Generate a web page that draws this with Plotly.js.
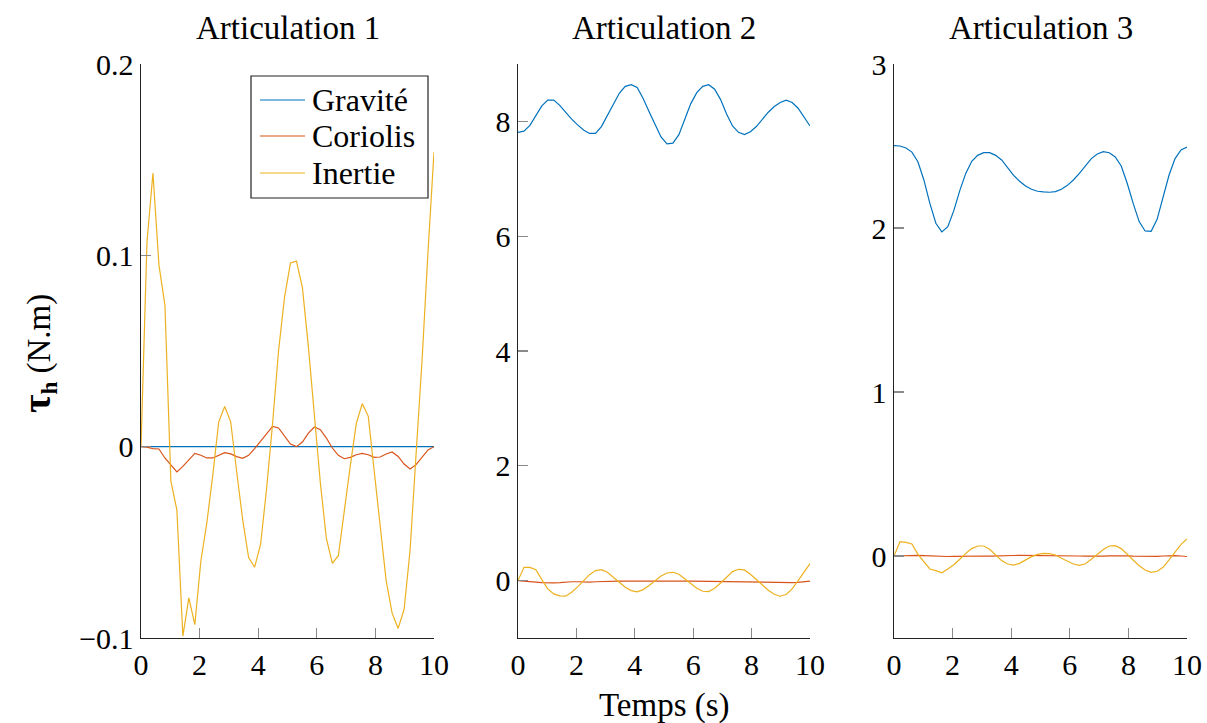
<!DOCTYPE html>
<html>
<head>
<meta charset="utf-8">
<script src="https://cdn.plot.ly/plotly-3.0.1.min.js"></script>
<style>
  html, body { margin: 0; padding: 0; background: #fff; }
  #chart { width: 1207px; height: 723px; }
</style>
</head>
<body>
<div id="chart"></div>
<script>
// Sampling instants (s)
const temps = [0, 0.204, 0.408, 0.612, 0.816, 1.020, 1.224, 1.429, 1.633, 1.837,
  2.041, 2.245, 2.449, 2.653, 2.857, 3.061, 3.265, 3.469, 3.673, 3.878,
  4.082, 4.286, 4.490, 4.694, 4.898, 5.102, 5.306, 5.510, 5.714, 5.918,
  6.122, 6.327, 6.531, 6.735, 6.939, 7.143, 7.347, 7.551, 7.755, 7.959,
  8.163, 8.367, 8.571, 8.776, 8.980, 9.184, 9.388, 9.592, 9.796, 10];

// Joint 1 torques (N.m)
const gravite1 = [0, 0, 0, 0, 0, 0, 0, 0, 0, 0, 0, 0, 0, 0, 0, 0, 0, 0, 0, 0, 0, 0, 0, 0, 0,
  0, 0, 0, 0, 0, 0, 0, 0, 0, 0, 0, 0, 0, 0, 0, 0, 0, 0, 0, 0, 0, 0, 0, 0, 0];
const coriolis1 = [0, -0.0003, -0.001, -0.0012, -0.0059, -0.0094, -0.0132, -0.0103, -0.0068, -0.0035,
  -0.0045, -0.0059, -0.0059, -0.0045, -0.0031, -0.0038, -0.0052, -0.0061, -0.0045, -0.001,
  0.0028, 0.0071, 0.0106, 0.0098, 0.0055, 0.0014, 0, 0.0024, 0.0071, 0.0103,
  0.0089, 0.0045, -0.0007, -0.0045, -0.0063, -0.0056, -0.0042, -0.0035, -0.0042, -0.0056,
  -0.0054, -0.0038, -0.0028, -0.0051, -0.0091, -0.0117, -0.0094, -0.0056, -0.0017, 0];
const inertie1 = [0, 0.107, 0.143, 0.095, 0.074, -0.018, -0.033, -0.099, -0.079, -0.093,
  -0.060, -0.040, -0.015, 0.013, 0.021, 0.013, -0.013, -0.038, -0.058, -0.063,
  -0.051, -0.022, 0.012, 0.050, 0.078, 0.096, 0.097, 0.083, 0.052, 0.016,
  -0.019, -0.048, -0.061, -0.057, -0.033, -0.010, 0.012, 0.0225, 0.016, -0.012,
  -0.043, -0.070, -0.087, -0.095, -0.085, -0.054, -0.004, 0.045, 0.102, 0.154];

// Joint 2 torques (N.m)
const gravite2 = [7.81, 7.83, 7.93, 8.11, 8.27, 8.37, 8.37, 8.28, 8.16, 8.04,
  7.94, 7.85, 7.79, 7.79, 7.91, 8.10, 8.31, 8.49, 8.61, 8.64,
  8.59, 8.40, 8.17, 7.94, 7.73, 7.61, 7.62, 7.77, 8.05, 8.31,
  8.50, 8.61, 8.64, 8.56, 8.38, 8.13, 7.92, 7.81, 7.77, 7.82,
  7.91, 8.04, 8.16, 8.26, 8.33, 8.37, 8.33, 8.23, 8.08, 7.92];
const coriolis2 = [0, -0.005, -0.015, -0.025, -0.035, -0.04, -0.04, -0.035, -0.025, -0.02,
  -0.02, -0.025, -0.025, -0.02, -0.015, -0.01, -0.01, -0.01, -0.008, -0.005,
  -0.005, -0.008, -0.01, -0.008, -0.005, -0.003, -0.003, -0.005, -0.008, -0.01,
  -0.012, -0.015, -0.015, -0.015, -0.012, -0.012, -0.015, -0.02, -0.025, -0.025,
  -0.025, -0.025, -0.03, -0.035, -0.04, -0.04, -0.035, -0.03, -0.02, -0.01];
const inertie2 = [0, 0.232, 0.23, 0.19, 0.017, -0.145, -0.232, -0.267, -0.272, -0.203,
  -0.110, 0, 0.104, 0.174, 0.191, 0.145, 0.064, -0.029, -0.116, -0.174,
  -0.197, -0.157, -0.087, 0, 0.081, 0.133, 0.145, 0.110, 0.035, -0.052,
  -0.133, -0.186, -0.191, -0.133, -0.041, 0.064, 0.157, 0.197, 0.186, 0.110,
  0.017, -0.081, -0.168, -0.238, -0.272, -0.243, -0.145, 0, 0.157, 0.296];

// Joint 3 torques (N.m)
const gravite3 = [2.502, 2.500, 2.488, 2.463, 2.404, 2.293, 2.150, 2.029, 1.976, 2.008,
  2.106, 2.228, 2.333, 2.407, 2.443, 2.459, 2.459, 2.443, 2.415, 2.368,
  2.321, 2.285, 2.256, 2.236, 2.224, 2.220, 2.218, 2.222, 2.236, 2.260,
  2.293, 2.333, 2.378, 2.423, 2.451, 2.465, 2.459, 2.433, 2.378, 2.273,
  2.150, 2.039, 1.982, 1.980, 2.053, 2.181, 2.323, 2.423, 2.476, 2.494];
const coriolis3 = [0, 0.002, 0.004, 0.005, 0.004, 0.002, 0, -0.002, -0.003, -0.003,
  -0.002, -0.001, 0, 0.001, 0.001, 0, -0.001, -0.001, 0, 0.002,
  0.003, 0.004, 0.004, 0.003, 0.002, 0.001, 0.001, 0.002, 0.003, 0.003,
  0.002, 0, -0.001, -0.002, -0.002, -0.001, 0.001, 0.002, 0.002, 0.001,
  -0.001, -0.002, -0.003, -0.003, -0.002, 0, 0.002, 0.002, 0, -0.003];
const inertie3 = [0, 0.087, 0.083, 0.073, 0.010, -0.035, -0.079, -0.089, -0.102, -0.079,
  -0.053, -0.020, 0.016, 0.045, 0.061, 0.061, 0.041, 0.006, -0.028, -0.049,
  -0.055, -0.045, -0.024, -0.004, 0.010, 0.016, 0.014, 0.006, -0.014, -0.033,
  -0.049, -0.057, -0.047, -0.020, 0.012, 0.039, 0.061, 0.063, 0.045, 0.010,
  -0.028, -0.059, -0.085, -0.100, -0.093, -0.069, -0.024, 0.026, 0.071, 0.104];

const seriesNames = ['Gravité', 'Coriolis', 'Inertie'];
const panelTitles = ['Articulation 1', 'Articulation 2', 'Articulation 3'];
const xTicks = [0, 2, 4, 6, 8, 10];
const yTicks1 = [-0.1, 0, 0.1, 0.2];
const yTicks2 = [0, 2, 4, 6, 8];
const yTicks3 = [0, 1, 2, 3];

const colors = ['#0072BD', '#D95319', '#EDB120'];
const FONT = 'Liberation Serif';

const panels = [
  [gravite1, coriolis1, inertie1],
  [gravite2, coriolis2, inertie2],
  [gravite3, coriolis3, inertie3]
];

const traces = [];
panels.forEach((set, p) => {
  set.forEach((vals, s) => {
    traces.push({
      x: temps, y: vals, type: 'scatter', mode: 'lines',
      name: seriesNames[s],
      showlegend: false,
      line: { color: colors[s], width: 1.2 },
      xaxis: p === 0 ? 'x' : 'x' + (p + 1),
      yaxis: p === 0 ? 'y' : 'y' + (p + 1),
      hoverinfo: 'skip'
    });
  });
});

const W = 1207, H = 723;
const yDom = [1 - 638 / H, 1 - 64 / H];
const xDoms = [[141 / W, 434 / W], [518 / W, 810 / W], [894 / W, 1187 / W]];
const px = v => v / W;          // pixel column -> paper x
const py = v => 1 - v / H;      // pixel row -> paper y

function xAxis(dom, anchor) {
  return {
    domain: dom, anchor: anchor, range: [0, 10],
    tickvals: xTicks, ticks: 'inside', ticklen: 10, tickwidth: 1.2, tickcolor: '#8a8a8a',
    showline: true, linecolor: '#222', linewidth: 1.4, mirror: false,
    showgrid: false, zeroline: false,
    tickfont: { family: FONT, size: 30, color: '#000' }
  };
}
function yAxis(range, ticks, anchor) {
  return {
    domain: yDom, anchor: anchor, range: range,
    tickvals: ticks, ticks: 'inside', ticklen: 10, tickwidth: 1.2, tickcolor: '#8a8a8a',
    showline: true, linecolor: '#222', linewidth: 1.4, mirror: false,
    showgrid: false, zeroline: false,
    tickfont: { family: FONT, size: 30, color: '#000' }
  };
}

const annotations = panelTitles.map((txt, i) => ({
  text: txt, xref: 'paper', yref: 'paper',
  x: (xDoms[i][0] + xDoms[i][1]) / 2, y: py(28),
  xanchor: 'center', yanchor: 'middle', showarrow: false,
  font: { family: FONT, size: 33, color: '#000' }
}));
annotations.push({
  text: 'Temps (s)', xref: 'paper', yref: 'paper',
  x: (xDoms[1][0] + xDoms[1][1]) / 2, y: py(705),
  xanchor: 'center', yanchor: 'middle', showarrow: false,
  font: { family: FONT, size: 33, color: '#000' }
});
annotations.push({
  text: '<b><span style="font-size:40px">τ</span><sub>h</sub></b> (N.m)',
  xref: 'paper', yref: 'paper',
  x: px(38), y: py(354), textangle: -90,
  xanchor: 'center', yanchor: 'middle', showarrow: false,
  font: { family: FONT, size: 33, color: '#000' }
});

// Legend box for the first panel
const legendRows = [100, 136, 173];
const shapes = [{
  type: 'rect', xref: 'paper', yref: 'paper', layer: 'above',
  x0: px(251), x1: px(428), y0: py(198), y1: py(76),
  line: { color: '#222', width: 1.2 }, fillcolor: '#fff'
}];
seriesNames.forEach((name, i) => {
  shapes.push({
    type: 'line', xref: 'paper', yref: 'paper', layer: 'above',
    x0: px(260), x1: px(305), y0: py(legendRows[i]), y1: py(legendRows[i]),
    line: { color: colors[i], width: 1.2 }
  });
  annotations.push({
    text: name, xref: 'paper', yref: 'paper',
    x: px(310), y: py(legendRows[i]), xanchor: 'left', yanchor: 'middle',
    showarrow: false, font: { family: FONT, size: 32, color: '#000' }
  });
});

const layout = {
  width: W, height: H,
  margin: { l: 0, r: 0, t: 0, b: 0 },
  paper_bgcolor: '#fff', plot_bgcolor: 'rgba(0,0,0,0)',
  font: { family: FONT, size: 30, color: '#000' },
  showlegend: false,
  xaxis: xAxis(xDoms[0], 'y'),
  xaxis2: xAxis(xDoms[1], 'y2'),
  xaxis3: xAxis(xDoms[2], 'y3'),
  yaxis: yAxis([-0.1, 0.2], yTicks1, 'x'),
  yaxis2: yAxis([-1, 9], yTicks2, 'x2'),
  yaxis3: yAxis([-0.5, 3], yTicks3, 'x3'),
  shapes: shapes,
  annotations: annotations
};

Plotly.newPlot('chart', traces, layout, { displayModeBar: false, staticPlot: true });
</script>
</body>
</html>
